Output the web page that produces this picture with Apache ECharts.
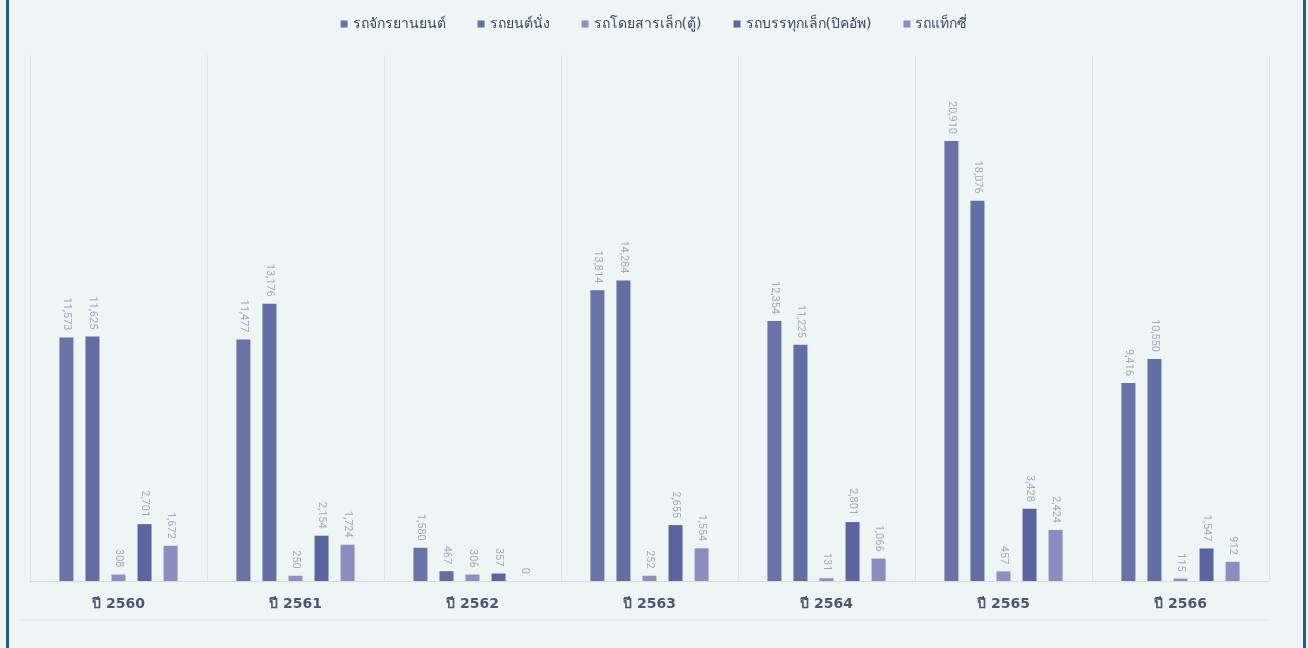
<!DOCTYPE html>
<html>
<head>
<meta charset="utf-8">
<script src="https://cdn.jsdelivr.net/npm/echarts@6/dist/echarts.min.js"></script>
<style>
  html, body { margin: 0; padding: 0; background: #eef6f5; }
  #frame {
    position: absolute; left: 6px; top: 0; width: 1294px; height: 648px;
    border-left: 3px solid #285a96; border-right: 3px solid #285a96;
  }
  #main { position: absolute; left: 0; top: 0; width: 1308px; height: 648px; }
</style>
</head>
<body>
<div id="frame"></div>
<div id="main"></div>
<script>
const years = ["ปี 2560", "ปี 2561", "ปี 2562", "ปี 2563", "ปี 2564", "ปี 2565", "ปี 2566"];
const seriesNames = ["รถจักรยานยนต์", "รถยนต์นั่ง", "รถโดยสารเล็ก(ตู้)", "รถบรรทุกเล็ก(ปิคอัพ)", "รถแท็กซี่"];
const motorcycle = [11573, 11477, 1580, 13814, 12354, 20910, 9416];
const sedan = [11625, 13176, 467, 14284, 11225, 18076, 10550];
const van = [308, 250, 306, 252, 131, 457, 115];
const pickup = [2701, 2154, 357, 2655, 2801, 3428, 1547];
const taxi = [1672, 1724, 0, 1554, 1066, 2424, 912];
const seriesColors = ["#6a72a8", "#626ea4", "#8e90c0", "#5b64a0", "#8b8cc0"];

const numberFormat = new Intl.NumberFormat("en-US");

//แท่งแต่ละชุดข้อมูล
function makeBar(name, data, idx) {
  return {
    name,
    type: "bar",
    data,
    barWidth: 14,
    barGap: "86%",
    itemStyle: { color: seriesColors[idx] },
    label: {
      show: true,
      position: "top",
      rotate: -90,
      align: "right",
      verticalAlign: "middle",
      distance: 7,
      color: "#a3a8b6",
      fontSize: 11,
      fontFamily: "Roboto, sans-serif",
      formatter: (p) => numberFormat.format(p.value),
    },
  };
}

const chart = echarts.init(document.getElementById("main"), null, { renderer: "canvas" });
chart.setOption({
  backgroundColor: "transparent",
  animation: false,
  legend: {
    top: 12,
    left: "center",
    itemWidth: 7,
    itemHeight: 7,
    itemGap: 32,
    icon: "rect",
    textStyle: { color: "#3e4468", fontSize: 14, fontFamily: "'DejaVu Sans', sans-serif" },
    data: seriesNames,
  },
  grid: { top: 55, bottom: 67, left: 30, right: 39 },
  xAxis: {
    type: "category",
    data: years,
    axisLine: { show: true, lineStyle: { color: "#d5dbe0" } },
    axisTick: { show: false },
    splitLine: { show: true, lineStyle: { color: "#dde3e6", width: 1 } },
    axisLabel: {
      color: "#4f5572",
      fontSize: 14,
      fontWeight: "bold",
      fontFamily: "'DejaVu Sans', sans-serif",
      margin: 16,
    },
  },
  yAxis: {
    type: "value",
    min: 0,
    max: 25000,
    show: false,
    splitLine: { show: false },
  },
  graphic: [
    {
      type: "line",
      shape: { x1: 20, y1: 620, x2: 1270, y2: 620 },
      style: { stroke: "#dfe6e8", lineWidth: 1 },
    },
  ],
  series: [
    makeBar(seriesNames[0], motorcycle, 0),
    makeBar(seriesNames[1], sedan, 1),
    makeBar(seriesNames[2], van, 2),
    makeBar(seriesNames[3], pickup, 3),
    makeBar(seriesNames[4], taxi, 4),
  ],
});
</script>
</body>
</html>
